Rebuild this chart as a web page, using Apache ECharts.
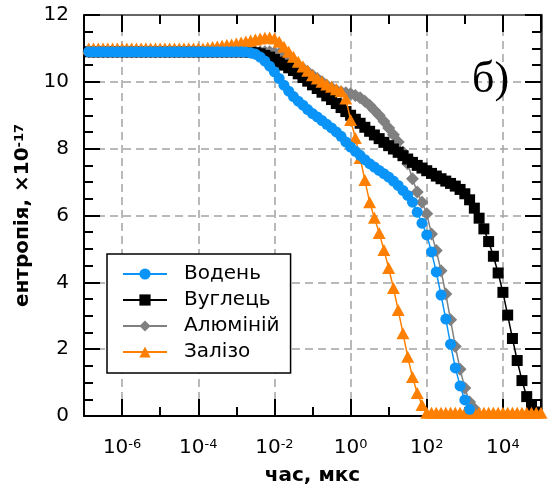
<!DOCTYPE html>
<html><head><meta charset="utf-8">
<script src="https://cdn.jsdelivr.net/npm/echarts@6/dist/echarts.min.js"></script>
<style>html,body{margin:0;padding:0;background:#fff}#c{width:552px;height:485px}</style>
</head><body><div id="c"></div>
<script>
// time, as log10 of microseconds
const logTime = [
 -6.875,-6.75,-6.625,-6.5,-6.375,-6.25,-6.125,-6,
 -5.875,-5.75,-5.625,-5.5,-5.375,-5.25,-5.125,-5,
 -4.875,-4.75,-4.625,-4.5,-4.375,-4.25,-4.125,-4,
 -3.875,-3.75,-3.625,-3.5,-3.375,-3.25,-3.125,-3,
 -2.875,-2.75,-2.625,-2.5,-2.375,-2.25,-2.125,-2,
 -1.875,-1.75,-1.625,-1.5,-1.375,-1.25,-1.125,-1,
 -0.875,-0.75,-0.625,-0.5,-0.375,-0.25,-0.125,0,
 0.125,0.25,0.375,0.5,0.625,0.75,0.875,1,
 1.125,1.25,1.375,1.5,1.625,1.75,1.875,2,
 2.125,2.25,2.375,2.5,2.625,2.75,2.875,3,
 3.125,3.25,3.375,3.5,3.625,3.75,3.875,4,
 4.125,4.25,4.375,4.5,4.625,4.75,4.875,5
];
const hydrogen = [
 10.9,10.9,10.9,10.9,10.9,10.9,10.9,10.9,
 10.9,10.9,10.9,10.9,10.9,10.9,10.9,10.9,
 10.9,10.9,10.9,10.9,10.9,10.9,10.9,10.9,
 10.9,10.9,10.9,10.9,10.9,10.9,10.9,10.9,
 10.9,10.89,10.87,10.83,10.74,10.62,10.47,10.3,
 10.1,9.9,9.72,9.56,9.42,9.3,9.17,9.05,
 8.95,8.84,8.73,8.62,8.5,8.37,8.2,8.05,
 7.92,7.8,7.67,7.55,7.45,7.35,7.25,7.15,
 7.03,6.9,6.75,6.6,6.4,6.1,5.77,5.42,
 4.91,4.31,3.62,2.9,2.15,1.44,0.9,0.48,
 0.2
];
const carbon = [
 10.9,10.9,10.9,10.9,10.9,10.9,10.9,10.9,
 10.9,10.9,10.9,10.9,10.9,10.9,10.9,10.9,
 10.9,10.9,10.9,10.9,10.9,10.9,10.9,10.9,
 10.9,10.9,10.9,10.9,10.9,10.9,10.9,10.9,
 10.9,10.9,10.89,10.87,10.84,10.79,10.74,10.67,
 10.59,10.5,10.42,10.34,10.24,10.13,10.02,9.91,
 9.8,9.69,9.58,9.47,9.35,9.23,9.11,9.0,
 8.88,8.76,8.64,8.52,8.41,8.3,8.19,8.09,
 7.99,7.89,7.79,7.69,7.59,7.5,7.42,7.34,
 7.26,7.18,7.1,7.03,6.96,6.88,6.78,6.65,
 6.47,6.22,5.92,5.6,5.22,4.78,4.28,3.7,
 3.02,2.32,1.66,1.06,0.58,0.3,0.12
];
const aluminium = [
 10.9,10.9,10.9,10.9,10.9,10.9,10.9,10.9,
 10.9,10.9,10.9,10.9,10.9,10.9,10.9,10.9,
 10.9,10.9,10.9,10.9,10.9,10.9,10.9,10.9,
 10.9,10.9,10.9,10.9,10.9,10.9,10.9,10.9,
 10.9,10.9,10.9,10.9,10.9,10.9,10.9,10.88,
 10.85,10.8,10.74,10.62,10.5,10.4,10.3,10.2,
 10.1,10.0,9.9,9.82,9.75,9.7,9.67,9.64,
 9.59,9.52,9.42,9.3,9.15,9.0,8.82,8.62,
 8.42,8.2,7.9,7.55,7.1,6.7,6.4,6.05,
 5.45,4.95,4.35,3.65,2.88,2.08,1.4,0.84,
 0.42,0.22
];
const iron = [
 11.0,11.0,11.0,11.0,11.0,11.0,11.0,11.0,
 11.0,11.0,11.0,11.0,11.0,11.0,11.0,11.0,
 11.0,11.0,11.0,11.0,11.0,11.0,11.0,11.0,
 11.0,11.02,11.04,11.06,11.08,11.1,11.12,11.15,
 11.18,11.21,11.24,11.27,11.3,11.32,11.33,11.3,
 11.2,11.05,10.9,10.75,10.6,10.46,10.33,10.2,
 10.1,10.0,9.92,9.85,9.78,9.72,9.5,8.86,
 8.32,7.72,7.06,6.4,5.93,5.48,4.97,4.43,
 3.83,3.17,2.48,1.77,1.17,0.69,0.33,0.1,
 0.1,0.1,0.1,0.1,0.1,0.1,0.1,0.1,
 0.1,0.1,0.1,0.1,0.1,0.1,0.1,0.1,
 0.1,0.1,0.1,0.1,0.1,0.1,0.1,0.1
];
const seriesNames = ['Водень', 'Вуглець', 'Алюміній', 'Залізо'];
const xMinExp = -7, xMaxExp = 5;
const yMin = 0, yMax = 12, yStep = 2;

const FONT = 'DejaVu Sans';
const pairs = vals => vals.map((v, i) => [logTime[i], v]);
const tickLine = {color: '#000', width: 2};
const gridDash = {color: '#a3a3a3', width: 1.5, type: [8, 5]};
const supRich = {
  b: {fontSize: 20, lineHeight: 22, verticalAlign: 'top', fontFamily: FONT, color: '#000'},
  s: {fontSize: 13, lineHeight: 13, verticalAlign: 'top', fontFamily: FONT, color: '#000'}
};

const chart = echarts.init(document.getElementById('c'), null, {renderer: 'canvas'});
chart.setOption({
  animation: false,
  backgroundColor: '#fff',
  textStyle: {fontFamily: FONT},
  grid: {left: 84, right: 11, top: 15, bottom: 69, containLabel: false, outerBoundsMode: 'none'},
  xAxis: [{
    type: 'value', position: 'bottom', min: xMinExp, max: xMaxExp, splitNumber: 6,
    axisLine: {onZero: false, lineStyle: {color: '#000', width: 2}},
    axisTick: {inside: true, length: 17, lineStyle: tickLine},
    minorTick: {show: true, splitNumber: 2, length: 9, lineStyle: tickLine},
    splitLine: {show: true, showMinLine: false, showMaxLine: false, lineStyle: gridDash},
    axisLabel: {
      margin: 22, rich: supRich,
      formatter: v => (Math.abs(v % 2) < 1e-9 && v >= -6 && v <= 4) ? '{b|10}{s|' + v + '}' : ''
    },
    name: 'час, мкс', nameLocation: 'middle', nameGap: 50,
    nameTextStyle: {fontSize: 20, fontWeight: 'bold', color: '#000', fontFamily: FONT}
  }, {
    type: 'value', position: 'top', min: xMinExp, max: xMaxExp, splitNumber: 6,
    axisLine: {onZero: false, lineStyle: {color: '#333', width: 1.5}},
    axisTick: {inside: true, length: 17, lineStyle: tickLine},
    minorTick: {show: true, splitNumber: 2, length: 9, lineStyle: tickLine},
    splitLine: {show: false}, axisLabel: {show: false}
  }],
  yAxis: [{
    type: 'value', position: 'left', min: yMin, max: yMax, interval: yStep,
    axisLine: {show: true, onZero: false, lineStyle: {color: '#000', width: 2}},
    axisTick: {show: true, inside: true, length: 16, lineStyle: tickLine},
    minorTick: {show: true, splitNumber: 4, length: 9, lineStyle: tickLine},
    splitLine: {show: true, showMinLine: false, showMaxLine: false, lineStyle: gridDash},
    axisLabel: {margin: 15, fontSize: 20, color: '#000', fontFamily: FONT},
    name: '{a|ентропія, ×10}{s|-17}', nameLocation: 'middle', nameGap: 48, nameRotate: 90,
    nameTextStyle: {
      rich: {
        a: {fontSize: 20, lineHeight: 22, fontWeight: 'bold', verticalAlign: 'top', color: '#000', fontFamily: FONT},
        s: {fontSize: 13, lineHeight: 13, fontWeight: 'bold', verticalAlign: 'top', color: '#000', fontFamily: FONT}
      }
    }
  }, {
    type: 'value', position: 'right', min: yMin, max: yMax, interval: yStep,
    axisLine: {show: true, onZero: false, lineStyle: {color: '#333', width: 2.5}},
    axisTick: {show: true, inside: true, length: 16, lineStyle: tickLine},
    minorTick: {show: true, splitNumber: 4, length: 9, lineStyle: tickLine},
    splitLine: {show: false}, axisLabel: {show: false}
  }],
  legend: {
    orient: 'vertical', left: 107, top: 254, z: 10,
    padding: [10, 11, 11, 15], itemWidth: 44, itemHeight: 14, itemGap: 6,
    borderColor: '#000', borderWidth: 1.5, backgroundColor: '#fff',
    textStyle: {fontSize: 20, lineHeight: 20, color: '#000', fontFamily: FONT, padding: [0, 0, 0, 12]},
    data: seriesNames
  },
  graphic: [{
    type: 'text', left: 472, top: 58, z: 10,
    style: {text: 'б)', font: '44px "Liberation Serif"', fill: '#000'}
  }],
  series: [
    {name: seriesNames[0], type: 'line', z: 5, data: pairs(hydrogen), symbol: 'circle', symbolSize: 11,
     itemStyle: {color: '#0a94f8'}, lineStyle: {color: '#0a94f8', width: 1.5}},
    {name: seriesNames[1], type: 'line', z: 3, data: pairs(carbon), symbol: 'rect', symbolSize: 11,
     itemStyle: {color: '#000'}, lineStyle: {color: '#000', width: 1.5}},
    {name: seriesNames[2], type: 'line', z: 2, data: pairs(aluminium), symbol: 'diamond', symbolSize: 13,
     itemStyle: {color: '#808080'}, lineStyle: {color: '#808080', width: 1.5}},
    {name: seriesNames[3], type: 'line', z: 4, data: pairs(iron), symbol: 'triangle', symbolSize: [13, 12],
     itemStyle: {color: '#ff8000'}, lineStyle: {color: '#ff8000', width: 1.5}}
  ]
});
</script>
</body></html>
